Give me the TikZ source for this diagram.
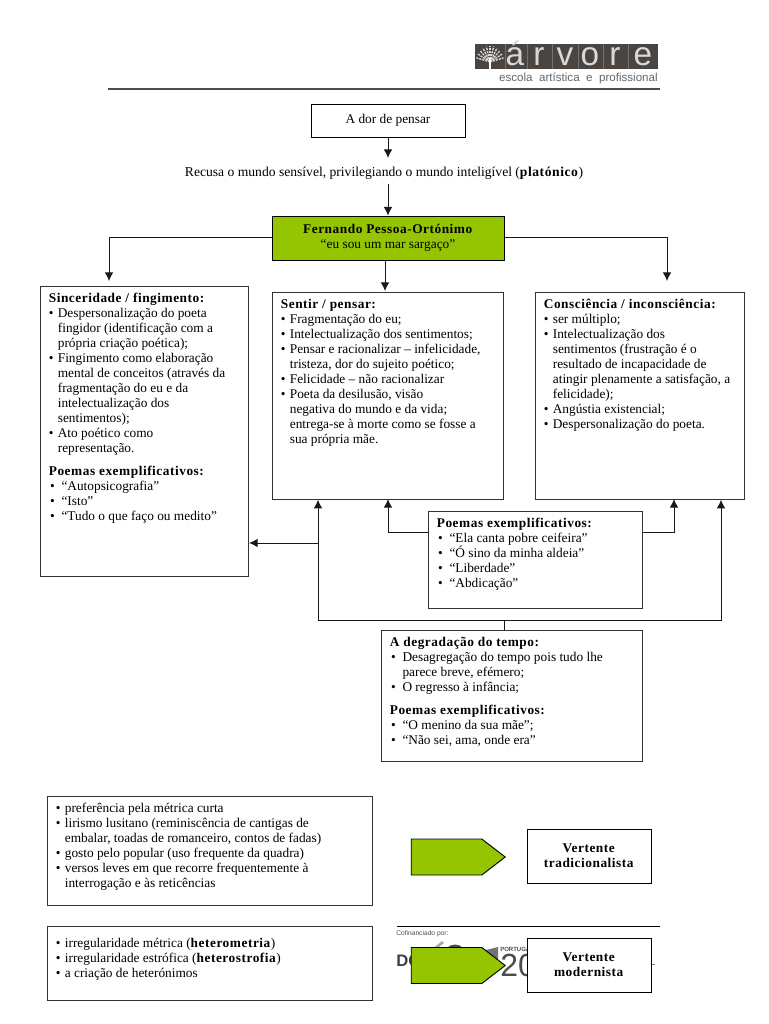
\documentclass[tikz,border=0pt]{standalone}
\usepackage{fontspec}
\setmainfont[BoldFeatures={LetterSpace=4}]{Liberation Serif}
\newfontfamily\logofont{Liberation Sans}
\usepackage[table]{xcolor}
\usetikzlibrary{calc}
\usetikzlibrary{positioning}
\usetikzlibrary{shapes.symbols}
\usetikzlibrary{arrows.meta}

\definecolor{limefill}{HTML}{95C500}
\definecolor{logodark}{HTML}{4A4541}

\newcommand{\boxtext}[3]{\parbox[t][#2pt][t]{#1pt}{\raggedright #3}}
\newcommand{\itm}{\makebox[6.75pt][l]{\textbullet}}
\newcommand{\cnt}{\hspace*{6.75pt}}
\newcommand{\pitm}{\hspace*{1pt}\makebox[8.5pt][l]{\textbullet}}
\newcommand{\pcnt}{\hspace*{9.5pt}}

\tikzset{
    textbox/.style={rectangle, draw=black!80, line width=0.8pt, anchor=north west, inner xsep=6.25pt, inner ysep=5pt, font=\fontsize{10}{11.25}\selectfont},
    titlebox/.style={rectangle, draw=black, line width=0.65pt, align=center, font=\fontsize{10}{11.25}\selectfont},
    tagarrow/.style={signal, signal to=east, signal pointer angle=75, draw=black, line width=0.7pt, fill=limefill, minimum width=70.5pt, minimum height=27pt, inner sep=0pt},
    conn/.style={line width=0.75pt, draw=black!90},
    connarrow/.style={conn, -{Latex[length=6.5pt,width=6.5pt]}},
}

\begin{document}
\begin{tikzpicture}[x=0.75pt, y=-0.75pt]
    \useasboundingbox (0,0) rectangle (768,1024);

    % logo
    \fill [logodark] (475,44) rectangle (658,69);
    \foreach \bx in {505, 527, 552, 578, 603, 628} {
        \draw [black!55, line width=0.3pt] (\bx,44) -- (\bx,69);
    }
    \foreach \ang in {15, 30, ..., 165} {
        \draw [white!85!black, line width=1pt, dash pattern=on 1.6pt off 0.7pt] (490,62) -- ++(\ang:14 and -16);
    }
    \draw [white, line width=1.2pt] (490,69) -- (490,58);
    \foreach \lx/\letter in {515/á, 539/r, 565/v, 590/o, 615/r, 643/e} {
        \node [text=white!85!black, font=\logofont\fontsize{25}{25}\selectfont, inner sep=0pt, anchor=base] (logo\lx) at (\lx,66) {\letter};
    }
    \node [anchor=base east, text=black!60, inner sep=0pt, font=\logofont\fontsize{8.7}{9}\selectfont] (logotext) at (658,82) {escola\ \ artística\ \ e\ \ profissional};
    \draw [black!70, line width=1pt] (108,89) -- (660,89);

    % top of the scheme
    \node [titlebox, minimum width=115.5pt, minimum height=24.75pt, inner ysep=0pt] (dor) at (388,120.5) {\raisebox{2pt}{A dor de pensar}};
    \node [inner sep=0pt, font=\fontsize{10.2}{11.25}\selectfont] (recusa) at (384,173) {Recusa o mundo sensível, privilegiando o mundo inteligível (\textbf{platónico})};
    \node [titlebox, fill=limefill, minimum width=174pt, minimum height=33pt] (pessoa) at (388,238) {\textbf{Fernando Pessoa-Ortónimo}\\“eu sou um mar sargaço”};

    \node [textbox] (sinceridade) at (40,286) {\boxtext{143.5}{207.5}{%
        \textbf{Sinceridade / fingimento:}\\
        \itm Despersonalização do poeta\\
        \cnt fingidor (identificação com a\\
        \cnt própria criação poética);\\
        \itm Fingimento como elaboração\\
        \cnt mental de conceitos (através da\\
        \cnt fragmentação do eu e da\\
        \cnt intelectualização dos\\
        \cnt sentimentos);\\
        \itm Ato poético como\\
        \cnt representação.\\[6.25pt]
        \textbf{Poemas exemplificativos:}\\
        \pitm “Autopsicografia”\\
        \pitm “Isto”\\
        \pitm “Tudo o que faço ou medito”}};

    \node [textbox] (sentir) at (272,292) {\boxtext{161}{145}{%
        \textbf{Sentir / pensar:}\\
        \itm Fragmentação do eu;\\
        \itm Intelectualização dos sentimentos;\\
        \itm Pensar e racionalizar -- infelicidade,\\
        \cnt tristeza, dor do sujeito poético;\\
        \itm Felicidade -- não racionalizar\\
        \itm Poeta da desilusão, visão\\
        \cnt negativa do mundo e da vida;\\
        \cnt entrega-se à morte como se fosse a\\
        \cnt sua própria mãe.}};

    \node [textbox] (consciencia) at (535,292) {\boxtext{144.25}{145}{%
        \textbf{Consciência / inconsciência:}\\
        \itm ser múltiplo;\\
        \itm Intelectualização dos\\
        \cnt sentimentos (frustração é o\\
        \cnt resultado de incapacidade de\\
        \cnt atingir plenamente a satisfação, a\\
        \cnt felicidade);\\
        \itm Angústia existencial;\\
        \itm Despersonalização do poeta.}};

    \node [textbox] (poemas) at (428,511) {\boxtext{147.75}{62.5}{%
        \textbf{Poemas exemplificativos:}\\
        \pitm “Ela canta pobre ceifeira”\\
        \pitm “Ó sino da minha aldeia”\\
        \pitm “Liberdade”\\
        \pitm “Abdicação”}};

    \node [textbox] (degradacao) at (381,630) {\boxtext{183.5}{88.5}{%
        \textbf{A degradação do tempo:}\\
        \pitm Desagregação do tempo pois tudo lhe\\
        \pcnt parece breve, efémero;\\
        \pitm O regresso à infância;\\[6.25pt]
        \textbf{Poemas exemplificativos:}\\
        \pitm “O menino da sua mãe”;\\
        \pitm “Não sei, ama, onde era”}};

    % bottom part
    \node [textbox] (tradicional) at (47,796) {\boxtext{231.25}{71.5}{%
        \itm preferência pela métrica curta\\
        \itm lirismo lusitano (reminiscência de cantigas de\\
        \cnt embalar, toadas de romanceiro, contos de fadas)\\
        \itm gosto pelo popular (uso frequente da quadra)\\
        \itm versos leves em que recorre frequentemente à\\
        \cnt interrogação e às reticências}};
    \node [textbox] (moderno) at (47,926) {\boxtext{231.25}{45.5}{%
        \vspace*{3.5pt}
        \itm irregularidade métrica (\textbf{heterometria})\\
        \itm irregularidade estrófica (\textbf{heterostrofia})\\
        \itm a criação de heterónimos}};

    % footer with the funding logos
    \draw [black, line width=0.7pt] (397,926) -- (660,926);
    \node [anchor=west, inner sep=0pt, font=\logofont\fontsize{5}{5}\selectfont, text=black!70] (cofin) at (396,934) {Cofinanciado por:};
    \node [anchor=west, inner sep=0pt, font=\logofont\bfseries\fontsize{12.5}{13}\selectfont, text=black!75] (pologo) at (396,961) {DO};
    \draw [black!35, line width=2pt] (433,950) -- (443,942);
    \draw [black!70, line width=2pt] (448,949) to [bend left=50] (462,949);
    \node [anchor=west, inner sep=0pt, font=\logofont\fontsize{24}{24}\selectfont, text=black!70] (ptlogo) at (500,965) {20};
    \node [anchor=west, inner sep=0pt, font=\logofont\bfseries\fontsize{4.5}{5}\selectfont, text=black!70] (ptname) at (500,949) {PORTUGAL};
    \fill [black!55] (482,951) -- (498,947) -- (498,972) -- (482,972) -- cycle;
    \draw [black!50, line width=0.5pt] (651,964) -- (655,964);

    \node [tagarrow] (tag1) at (446.5,857) {};
    \node [titlebox, minimum width=93pt, minimum height=40.5pt] (vtrad) at (589,856) {\textbf{Vertente}\\\textbf{tradicionalista}};
    \node [tagarrow] (tag2) at (446.5,965.5) {};
    \node [titlebox, fill=white, minimum width=93pt, minimum height=40.5pt] (vmod) at (589,965) {\textbf{Vertente}\\\textbf{modernista}};

    % connectors
    \coordinate (junction) at (504,620);
    \coordinate (leftup) at (318,620);
    \coordinate (rightup) at (721,620);
    \coordinate (branch) at (318,543);

    \draw [connarrow] (dor.south) -- (388,158);
    \draw [connarrow] (388,184) -- (pessoa.north);
    \draw [connarrow] ([yshift=0.75pt]pessoa.west) -| (109,281);
    \draw [connarrow] ([yshift=0.75pt]pessoa.east) -| (667,281);
    \draw [connarrow] (385,260) -- (385,291);
    \draw [conn] (degradacao.north -| junction) -- (junction);
    \draw [connarrow] (junction) -- (leftup) -- (leftup |- sentir.south);
    \draw [connarrow] (junction) -- (rightup) -- (rightup |- consciencia.south);
    \draw [connarrow] (branch) -- (branch -| sinceridade.east);
    \draw [connarrow] (poemas.west |- 0,532) -| (388,499);
    \draw [connarrow] (poemas.east |- 0,532) -| (674,499);
\end{tikzpicture}
\end{document}
